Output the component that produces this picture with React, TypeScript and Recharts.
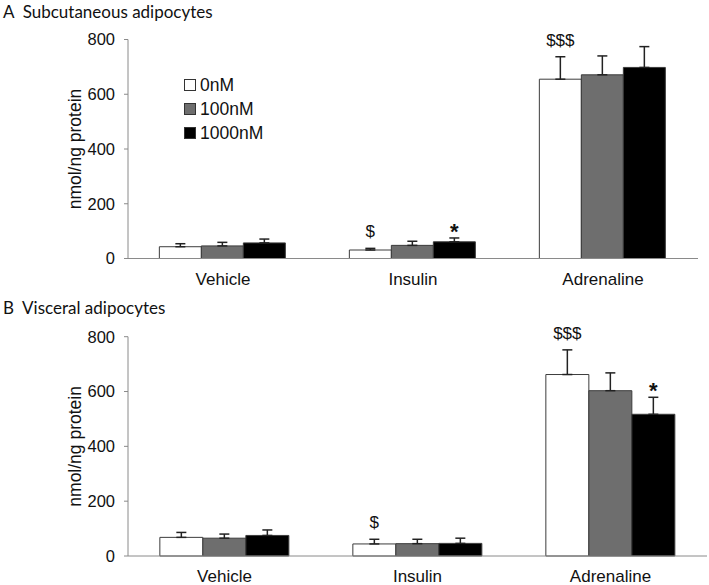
import { BarChart, Bar, XAxis, YAxis, ErrorBar, LabelList } from "recharts";

const categories = ["Vehicle", "Insulin", "Adrenaline"];
const doses = ["0nM", "100nM", "1000nM"];
const yTicks = [0, 200, 400, 600, 800];
const edgeTicks = [0, 1, 2, 3];

// A - subcutaneous
const subMean0 = [43, 31, 655];
const subMean100 = [46, 48, 671];
const subMean1000 = [57, 61, 698];
const subErr0 = [11, 6, 82];
const subErr100 = [13, 15, 69];
const subErr1000 = [14, 14, 76];
const subMark0 = ["", "$", "$$$"];
const subMark100 = ["", "", ""];
const subMark1000 = ["", "*", ""];

// B - visceral
const visMean0 = [68, 44, 662];
const visMean100 = [65, 45, 603];
const visMean1000 = [75, 46, 517];
const visErr0 = [18, 17, 90];
const visErr100 = [15, 16, 65];
const visErr1000 = [20, 19, 62];
const visMark0 = ["", "$", "$$$"];
const visMark100 = ["", "", ""];
const visMark1000 = ["", "", "*"];

const fills = ["#ffffff", "#6e6e6e", "#000000"];
const AXIS = "#8a8a8a";
const ARIAL = "'Liberation Sans', Arial, sans-serif";

type Series = { mean: number[]; err: number[]; mark: string[] };

function buildRows(series: Series[]) {
  return categories.map((name, i) => {
    const row: any = { name };
    series.forEach((s, k) => {
      row[`v${k}`] = s.mean[i];
      row[`e${k}`] = [0, s.err[i]];
      row[`m${k}`] = s.mark[i];
    });
    return row;
  });
}

const subSeries: Series[] = [
  { mean: subMean0, err: subErr0, mark: subMark0 },
  { mean: subMean100, err: subErr100, mark: subMark100 },
  { mean: subMean1000, err: subErr1000, mark: subMark1000 },
];
const visSeries: Series[] = [
  { mean: visMean0, err: visErr0, mark: visMark0 },
  { mean: visMean100, err: visErr100, mark: visMark100 },
  { mean: visMean1000, err: visErr1000, mark: visMark1000 },
];

// puts the significance mark just above the error bar cap
const markLabel = (s: Series) => (p: any) => {
  const vb = p.viewBox ?? p;
  const idx = p.index;
  const text = s.mark[idx];
  if (!text || vb == null) return null;
  const pxPerUnit = vb.height / s.mean[idx];
  const capY = vb.y - s.err[idx] * pxPerUnit;
  const star = text === "*";
  return (
    <text
      x={vb.x + vb.width / 2}
      y={star ? capY + 1 : capY - 11}
      textAnchor="middle"
      fontFamily={ARIAL}
      fontSize={star ? 22 : 17}
      fontWeight={star ? "bold" : "normal"}
      fill="#111"
    >
      {text}
    </text>
  );
};

function Panel({ series, margin }: { series: Series[]; margin: any }) {
  const rows = buildRows(series);
  return (
    <BarChart
      width={709}
      height={300}
      data={rows}
      margin={margin}
      barGap={0}
      barCategoryGap="16.5%"
    >
      <XAxis
        xAxisId="edge"
        type="number"
        domain={[0, 3]}
        ticks={edgeTicks}
        tick={false}
        axisLine={false}
        tickLine={{ stroke: AXIS }}
        tickSize={6}
        height={0}
      />
      <XAxis
        xAxisId="cat"
        dataKey="name"
        axisLine={{ stroke: AXIS }}
        tickLine={false}
        tickSize={0}
        tickMargin={14}
        height={30}
        tick={{ fontSize: 17, fontFamily: ARIAL, fill: "#111" }}
      />
      <YAxis
        width={106}
        domain={[0, 800]}
        ticks={yTicks}
        axisLine={{ stroke: AXIS }}
        tickLine={{ stroke: AXIS }}
        tickSize={4}
        tickMargin={9}
        tick={{ fontSize: 16.5, fontFamily: ARIAL, fill: "#111" }}
        label={{
          value: "nmol/ng protein",
          angle: -90,
          position: "center",
          style: { fontSize: 17.5, fontFamily: ARIAL, fill: "#111" },
        }}
      />
      {series.map((s, k) => (
        <Bar
          key={k}
          xAxisId="cat"
          dataKey={`v${k}`}
          fill={fills[k]}
          stroke="#3c3c3c"
          strokeWidth={1}
          isAnimationActive={false}
        >
          <ErrorBar dataKey={`e${k}`} width={5} stroke="#222" strokeWidth={1.5} />
          <LabelList dataKey={`m${k}`} content={markLabel(s)} />
        </Bar>
      ))}
    </BarChart>
  );
}

function Legend() {
  return (
    <div
      style={{
        position: "absolute",
        left: 184,
        top: 73,
        fontFamily: ARIAL,
        fontSize: 17.5,
        color: "#111",
        lineHeight: "24px",
      }}
    >
      {doses.map((d, k) => (
        <div key={d} style={{ display: "flex", alignItems: "center" }}>
          <span
            style={{
              display: "inline-block",
              width: 10,
              height: 10,
              background: fills[k],
              border: "1px solid #333",
              marginRight: 4,
            }}
          />
          {d}
        </div>
      ))}
    </div>
  );
}

const titleStyle: any = {
  position: "absolute",
  left: 3,
  fontFamily: "Lato, 'Open Sans', sans-serif",
  fontSize: 17,
  color: "#111",
  whiteSpace: "pre",
};

export default function App() {
  return (
    <div
      style={{
        position: "absolute",
        left: 0,
        top: 0,
        width: 709,
        height: 585,
        background: "#fff",
        overflow: "hidden",
      }}
    >
      <div style={{ ...titleStyle, top: 1 }}>A  Subcutaneous adipocytes</div>
      <div style={{ position: "absolute", left: 0, top: 0 }}>
        <Panel series={subSeries} margin={{ top: 39.5, right: 11, bottom: 11.5, left: 22 }} />
      </div>
      <Legend />
      <div style={{ ...titleStyle, top: 297 }}>B  Visceral adipocytes</div>
      <div style={{ position: "absolute", left: 0, top: 290 }}>
        <Panel series={visSeries} margin={{ top: 46.7, right: 2, bottom: 4, left: 22 }} />
      </div>
    </div>
  );
}
